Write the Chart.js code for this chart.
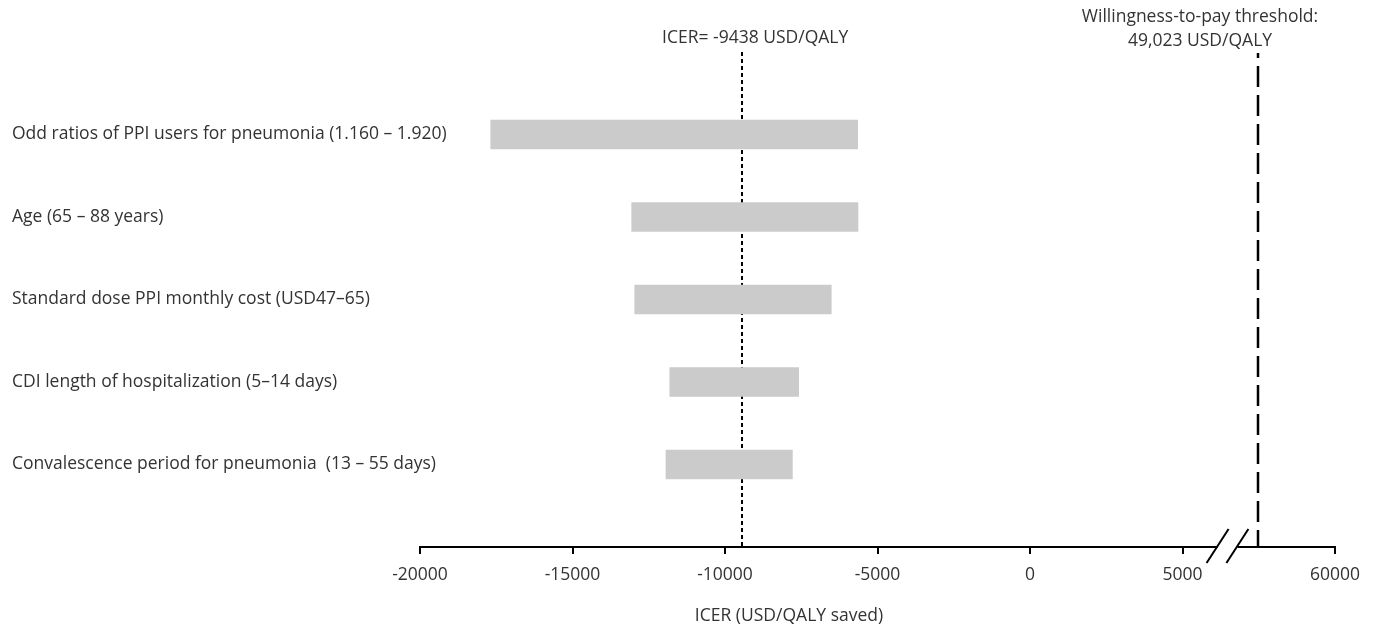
<!DOCTYPE html>
<html>
<head>
<meta charset="utf-8">
<script src="https://cdn.jsdelivr.net/npm/chart.js@4"></script>
<style>
  html, body { margin: 0; padding: 0; background: #fff; }
  #wrap { width: 1375px; height: 630px; position: relative; }
</style>
</head>
<body>
<div id="wrap"><canvas id="tornado"></canvas></div>
<script>
// parameters (top to bottom) and ICER range for low / high value
const parameters = [
    'Odd ratios of PPI users for pneumonia (1.160 \u2013 1.920)',
    'Age (65 \u2013 88 years)',
    'Standard dose PPI monthly cost (USD47\u201365)',
    'CDI length of hospitalization (5\u201314 days)',
    'Convalescence period for pneumonia  (13 \u2013 55 days)'
];
const icerLow = [-17680, -13060, -12960, -11810, -11935];
const icerHigh = [-5650, -5640, -6515, -7585, -7790];

const baseIcer = -9438;
const wtpThreshold = 49023;

const xTickValues = [-20000, -15000, -10000, -5000, 0, 5000, 10000];
const xTickLabels = ['-20000', '-15000', '-10000', '-5000', '0', '5000', '60000'];

// axis is broken after 5000, the part after the break is squeezed (not to scale in the figure)
const breakStart = 5000;
const breakEnd = 60000;
const breakScale = 0.23;
function toAxis(v) {
    if (v <= breakStart) return v;
    return 10000 - (breakEnd - v) * breakScale;
}

const FONT = '"Open Sans", sans-serif';
const TEXT = '#333333';

const annotations = {
    id: 'annotations',
    beforeDatasetsDraw(chart) {
        const ctx = chart.ctx;
        const x = chart.scales.x;
        const area = chart.chartArea;
        ctx.save();
        // base case ICER
        ctx.strokeStyle = '#000';
        ctx.lineWidth = 2;
        ctx.setLineDash([4, 3]);
        const px1 = Math.round(x.getPixelForValue(baseIcer));
        ctx.beginPath();
        ctx.moveTo(px1, area.top);
        ctx.lineTo(px1, area.bottom);
        ctx.stroke();
        // willingness-to-pay threshold
        ctx.lineWidth = 2.5;
        ctx.setLineDash([21, 8]);
        ctx.lineDashOffset = 16;
        const px2 = Math.round(x.getPixelForValue(toAxis(wtpThreshold)));
        ctx.beginPath();
        ctx.moveTo(px2, area.top + 1);
        ctx.lineTo(px2, area.bottom);
        ctx.stroke();
        ctx.restore();
    },
    afterDraw(chart) {
        const ctx = chart.ctx;
        const x = chart.scales.x;
        const y = chart.scales.y;
        const area = chart.chartArea;
        ctx.save();
        ctx.fillStyle = TEXT;
        ctx.font = '17.5px ' + FONT;
        ctx.textBaseline = 'middle';

        // parameter labels (left aligned, they run past the axis edge)
        ctx.textAlign = 'left';
        parameters.forEach((p, i) => {
            ctx.fillText(p, y.left, y.getPixelForValue(i));
        });

        ctx.textAlign = 'center';
        const px1 = x.getPixelForValue(baseIcer);
        ctx.fillText('ICER= -9438 USD/QALY', px1 + 13, 38);
        const px2 = x.getPixelForValue(toAxis(wtpThreshold));
        ctx.fillText('Willingness-to-pay threshold:', px2 - 58, 17);
        ctx.fillText('49,023 USD/QALY', px2 - 58, 41);
        // x axis title
        ctx.fillText('ICER (USD/QALY saved)', 789, 616);

        // axis break marks
        const y0 = area.bottom;
        const b1 = x.getPixelForValue(6150);
        const b2 = x.getPixelForValue(6800);
        ctx.fillStyle = '#fff';
        ctx.fillRect(b1, y0 - 2, b2 - b1, 4);
        ctx.strokeStyle = '#000';
        ctx.lineWidth = 2;
        [b1, b2].forEach(b => {
            ctx.beginPath();
            ctx.moveTo(b - 11, y0 + 16);
            ctx.lineTo(b + 11, y0 - 18);
            ctx.stroke();
        });
        ctx.restore();
    }
};

const ctx = document.getElementById('tornado');

const tornadoChart = new Chart(ctx, {
    type: 'bar',
    data: {
        datasets: [{
            data: parameters.map((p, i) => ({ x: [icerLow[i], icerHigh[i]], y: i })),
            backgroundColor: '#cbcbcb',
            borderWidth: 0,
            barThickness: 29
        }]
    },
    options: {
        indexAxis: 'y',
        animation: false,
        responsive: true,
        maintainAspectRatio: false,
        layout: {
            padding: { top: 52, right: 40, left: 12, bottom: 0 }
        },
        plugins: {
            legend: { display: false },
            tooltip: { enabled: false }
        },
        scales: {
            x: {
                type: 'linear',
                min: -20000,
                max: 10000,
                afterBuildTicks: (scale) => {
                    scale.ticks = xTickValues.map(v => ({ value: v }));
                },
                afterFit: (scale) => { scale.height = 83; },
                ticks: {
                    color: TEXT,
                    font: { family: FONT, size: 17.5 },
                    padding: 11,
                    maxRotation: 0,
                    autoSkip: false,
                    callback: (value) => xTickLabels[xTickValues.indexOf(value)]
                },
                grid: {
                    drawOnChartArea: false,
                    drawTicks: true,
                    tickLength: 7,
                    color: '#000',
                    lineWidth: 2
                },
                border: { display: true, color: '#000', width: 2 }
            },
            y: {
                type: 'linear',
                min: -1,
                max: 5,
                reverse: true,
                offset: false,
                afterFit: (scale) => { scale.width = 408; },
                ticks: { display: false },
                grid: { display: false },
                border: { display: false }
            }
        }
    },
    plugins: [annotations]
});
</script>
</body>
</html>
